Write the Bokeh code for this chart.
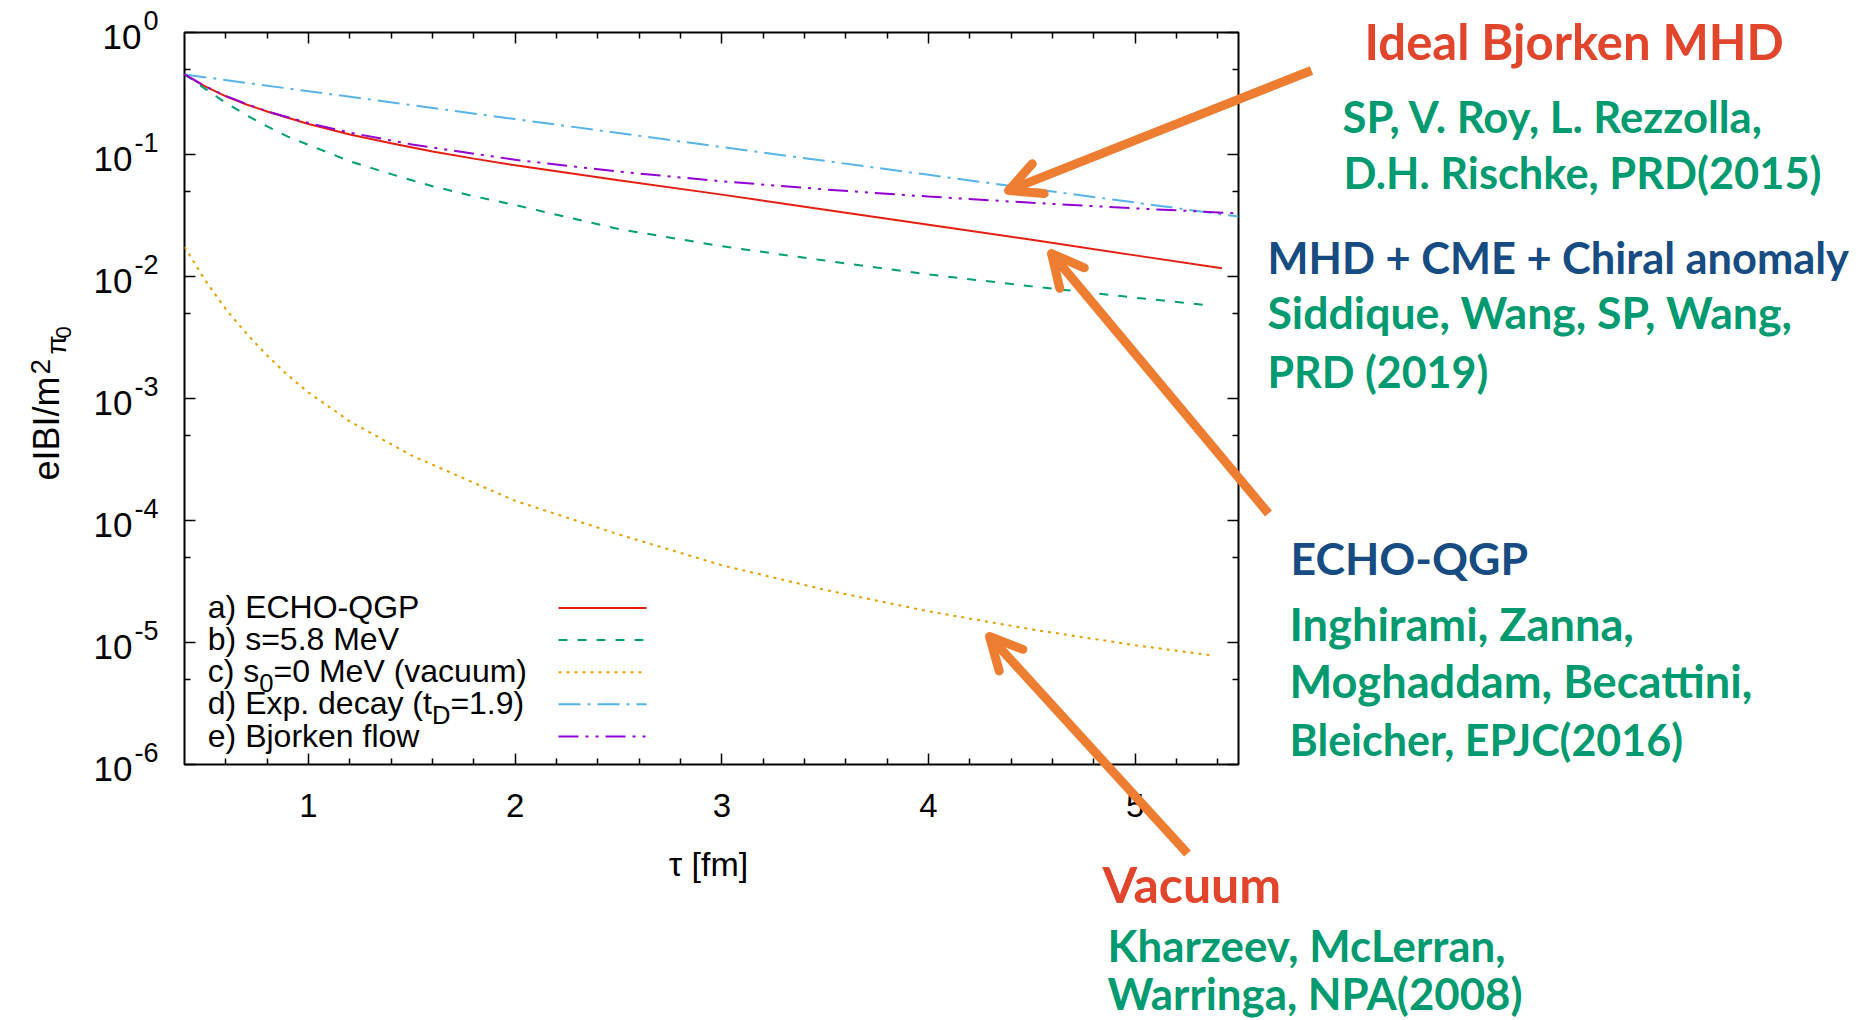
from math import pi
from bokeh.plotting import figure
from bokeh.models import (FixedTicker, LinearAxis, LogAxis, CustomJSTickFormatter,
                          Label, Arrow, OpenHead, Range1d)
from bokeh.embed import file_html
from bokeh.resources import INLINE

# ---------------- data ----------------
tau_echo = [0.4, 0.5, 0.6, 0.7, 0.8, 1.0, 1.2, 1.4, 1.6, 1.8, 2.0, 2.5, 3.0, 3.5, 4.0, 4.5, 5.0, 5.42]
b_echo = [0.453, 0.362, 0.300, 0.257, 0.225, 0.178, 0.146, 0.1235, 0.106, 0.0925, 0.0815,
          0.0615, 0.0469, 0.0352, 0.0265, 0.0200, 0.0149, 0.0117]

tau_s58 = [0.4, 0.45, 0.5, 0.6, 0.7, 0.8, 0.9, 1.0, 1.2, 1.4, 1.6, 1.8, 2.0, 2.5, 3.0, 3.5, 4.0, 4.5, 5.0, 5.36]
b_s58 = [0.453, 0.40, 0.345, 0.265, 0.21, 0.17, 0.14, 0.12, 0.088, 0.069, 0.055, 0.0455, 0.0385,
         0.0245, 0.0177, 0.0135, 0.0104, 0.0083, 0.0067, 0.0058]

tau_vac = [0.4, 0.5, 0.6, 0.7, 0.8, 0.9, 1.0, 1.2, 1.5, 2.0, 2.5, 3.0, 3.5, 4.0, 4.5, 5.0, 5.38]
b_vac = [1.75e-2, 9.3e-3, 5.4e-3, 3.4e-3, 2.25e-3, 1.55e-3, 1.12e-3, 6.5e-4, 3.4e-4, 1.45e-4,
         7.7e-5, 4.3e-5, 2.7e-5, 1.8e-5, 1.28e-5, 9.5e-6, 7.8e-6]

tau_exp = [0.4, 1.0, 1.5, 2.0, 2.5, 3.0, 3.5, 4.0, 4.5, 5.0, 5.5]
b_exp = [0.453, 0.330, 0.254, 0.195, 0.150, 0.115, 0.0886, 0.0681, 0.0524, 0.0404, 0.0310]

tau_bj = [0.4, 0.5, 0.6, 0.7, 0.8, 1.0, 1.2, 1.5, 2.0, 2.5, 3.0, 3.5, 4.0, 4.5, 5.0, 5.5]
b_bj = [0.453, 0.362, 0.302, 0.259, 0.226, 0.181, 0.151, 0.121, 0.0905, 0.0724, 0.0603,
        0.0517, 0.0452, 0.0402, 0.0362, 0.0329]

x_major = [1, 2, 3, 4, 5]
x_minor = [0.6, 0.8, 1.2, 1.4, 1.6, 1.8, 2.2, 2.4, 2.6, 2.8, 3.2, 3.4, 3.6, 3.8,
           4.2, 4.4, 4.6, 4.8, 5.2, 5.4]
y_exponents = [0, -1, -2, -3, -4, -5, -6]
y_major = [10.0 ** e for e in y_exponents]
y_minor = [5 * 10.0 ** e for e in [-6, -5, -4, -3, -2, -1]]

legend_labels = ["a) ECHO-QGP", "b) s=5.8 MeV", "c) s", "d) Exp. decay (t", "e) Bjorken flow"]

# ---------------- layout / style ----------------
W, H = 1858, 1020
FX0, FX1, FY0, FY1 = 184, 1238, 32, 764
XMIN, XMAX = 0.4, 5.5
LMIN, LMAX = -6, 0

C_RED, C_GREEN, C_ORANGE, C_CYAN, C_PURPLE = "#e51e10", "#009e73", "#e69f00", "#56b4e9", "#9400d3"
D_GREEN, D_ORANGE, D_CYAN, D_PURPLE = "9 10", "3 5", "22 7 3 7", "20 7 3 7 3 7"
ARROW = "#ED7D31"
T_RED, T_GREEN, T_BLUE = "#E1452B", "#009A70", "#164C82"
SANS = "Liberation Sans"
ANN = "Lato"
K = 0.37  # empirical baseline correction (fraction of font size)

CW = {'a': .556, 'b': .556, 'c': .5, 'd': .556, 'e': .556, 'f': .278, 'g': .556, 'h': .556,
      'i': .222, 'j': .222, 'k': .5, 'l': .222, 'm': .833, 'n': .556, 'o': .556, 'p': .556,
      'q': .556, 'r': .333, 's': .5, 't': .278, 'u': .556, 'v': .5, 'w': .722, 'x': .5,
      'y': .5, 'z': .5, 'B': .667, 'C': .722, 'D': .722, 'E': .667, 'G': .778, 'H': .722,
      'I': .278, 'M': .833, 'O': .778, 'P': .667, 'Q': .778, 'V': .667, ' ': .278, ')': .333,
      '(': .333, '.': .278, '=': .584, '-': .333}


def tw(s, size):
    return sum(CW.get(ch, .556) for ch in s) * size


# ---------------- main chart ----------------
p = figure(width=W, height=H, x_range=Range1d(XMIN, XMAX),
           y_range=Range1d(10.0 ** LMIN, 10.0 ** LMAX), y_axis_type="log",
           output_backend="svg", toolbar_location=None,
           min_border_left=FX0, min_border_right=W - FX1,
           min_border_top=FY0, min_border_bottom=H - FY1)
p.grid.visible = False
p.outline_line_color = "black"
p.outline_line_width = 2
p.background_fill_color = "white"
p.border_fill_color = "white"
p.margin = 0

xt = FixedTicker(ticks=x_major, minor_ticks=x_minor)
yt = FixedTicker(ticks=y_major, minor_ticks=y_minor)
blank = CustomJSTickFormatter(code="return ''")

p.below[0].ticker = xt
p.left[0].ticker = yt
p.left[0].formatter = blank
p.add_layout(LinearAxis(ticker=xt, formatter=blank), "above")
p.add_layout(LogAxis(ticker=yt, formatter=blank), "right")

for ax in p.axis:
    ax.axis_line_color = None
    ax.major_tick_in = 11
    ax.major_tick_out = 0
    ax.minor_tick_in = 6
    ax.minor_tick_out = 0
    ax.major_tick_line_color = "black"
    ax.minor_tick_line_color = "black"
    ax.major_tick_line_width = 1.5
    ax.minor_tick_line_width = 1.5

xa = p.below[0]
xa.major_label_text_font = SANS
xa.major_label_text_font_size = "33px"
xa.major_label_text_color = "black"
xa.major_label_standoff = 29

p.line(tau_echo, b_echo, line_color=C_RED, line_width=2)
p.line(tau_s58, b_s58, line_color=C_GREEN, line_width=2, line_dash=D_GREEN)
p.line(tau_vac, b_vac, line_color=C_ORANGE, line_width=2, line_dash=D_ORANGE)
p.line(tau_exp, b_exp, line_color=C_CYAN, line_width=2, line_dash=D_CYAN)
p.line(tau_bj, b_bj, line_color=C_PURPLE, line_width=2, line_dash=D_PURPLE)

# ---------------- overlay for texts & arrows (pixel coordinates) ----------------
ov = figure(width=W, height=H, x_range=Range1d(0, W), y_range=Range1d(H, 0),
            output_backend="svg", toolbar_location=None, x_axis_location=None,
            y_axis_location=None, min_border=0)
ov.grid.visible = False
ov.outline_line_color = None
ov.background_fill_alpha = 0
ov.border_fill_alpha = 0
ov.margin = 0
ov.styles = {"position": "absolute", "left": "0px", "top": "0px"}


def lab(text, X, Y, size, color="black", font=SANS, style="normal", align="left", rot=False):
    if rot:
        X, ang = X - K * size, pi / 2
    else:
        Y, ang = Y - K * size, 0.0
    ov.add_layout(Label(x=X, y=Y, text=text, text_font=font,
                        text_font_size=f"{size}px", text_color=color, text_font_style=style,
                        text_align=align, text_baseline="alphabetic", angle=ang))


# y tick labels 10^n
for e in y_exponents:
    ty = FY0 + (-e) * (FY1 - FY0) / (LMAX - LMIN)
    es = str(e)
    lab(es, 158, ty - 2, 27, align="right")
    lab("10", 158 - tw(es, 27) - 2, ty + 17, 35, align="right")

# axis labels
lab("\u03c4 [fm]", 708, 876, 34, align="center")
lab("eIBI/m", 59, 480, 36, rot=True)
lab("2", 50, 374, 28, rot=True)
lab("\u03c0", 66, 354, 28, rot=True)
lab("0", 71, 338, 22, rot=True)

# legend
LX, LB, LS = 207.3, 618.5, 32.1
LF, SF = 32, 25.6
lab(legend_labels[0], LX, LB, LF)
lab(legend_labels[1], LX, LB + LS, LF)
lab(legend_labels[2], LX, LB + 2 * LS, LF)
x2 = LX + tw(legend_labels[2], LF)
lab("0", x2, LB + 2 * LS + 9, SF)
lab("=0 MeV (vacuum)", x2 + tw("0", SF), LB + 2 * LS, LF)
lab(legend_labels[3], LX, LB + 3 * LS, LF)
x3 = LX + tw(legend_labels[3], LF)
lab("D", x3, LB + 3 * LS + 9, SF)
lab("=1.9)", x3 + tw("D", SF), LB + 3 * LS, LF)
lab(legend_labels[4], LX, LB + 4 * LS, LF)

samples = [(C_RED, "solid"), (C_GREEN, D_GREEN), (C_ORANGE, D_ORANGE), (C_CYAN, D_CYAN),
           (C_PURPLE, D_PURPLE)]
for i, (c, d) in enumerate(samples):
    yy = LB + i * LS - 11
    ov.add_layout(Arrow(x_start=558, y_start=yy, x_end=646, y_end=yy,
                        start=None, end=None, line_color=c, line_width=2, line_dash=d))

# orange arrows
for (X0, Y0, X1, Y1) in [(1311, 70, 1008, 190), (1268, 513, 1051, 253), (1187, 853, 989, 636)]:
    ov.add_layout(Arrow(x_start=X0, y_start=Y0, x_end=X1, y_end=Y1,
                        line_color=ARROW, line_width=9,
                        end=OpenHead(size=32, line_color=ARROW, line_width=9,
                                     line_join="round", line_cap="round")))

# annotation texts (sizes tuned to the reference widths)
lab("Ideal Bjorken MHD", 1364, 59, 49, T_RED, ANN, "bold")
lab("SP, V. Roy, L. Rezzolla,", 1342, 132, 43.6, T_GREEN, ANN, "bold")
lab("D.H. Rischke, PRD(2015)", 1343, 188, 43.4, T_GREEN, ANN, "bold")
lab("MHD + CME + Chiral anomaly", 1267, 273, 43.4, T_BLUE, ANN, "bold")
lab("Siddique, Wang, SP, Wang,", 1267, 328, 44.6, T_GREEN, ANN, "bold")
lab("PRD (2019)", 1267, 387, 43, T_GREEN, ANN, "bold")
lab("ECHO-QGP", 1290, 574, 44.6, T_BLUE, ANN, "bold")
lab("Inghirami, Zanna,", 1289, 640, 45.2, T_GREEN, ANN, "bold")
lab("Moghaddam, Becattini,", 1289, 697, 45.2, T_GREEN, ANN, "bold")
lab("Bleicher, EPJC(2016)", 1289, 755, 43, T_GREEN, ANN, "bold")
lab("Vacuum", 1102, 902, 50, T_RED, ANN, "bold")
lab("Kharzeev, McLerran,", 1107, 961, 43.8, T_GREEN, ANN, "bold")
lab("Warringa, NPA(2008)", 1107, 1009, 43.8, T_GREEN, ANN, "bold")

open("out.html", "w").write(file_html([p, ov], INLINE))
